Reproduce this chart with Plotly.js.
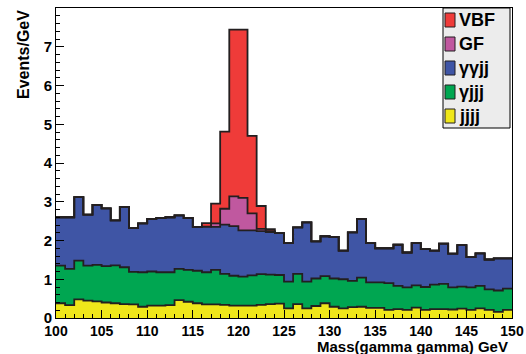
<!DOCTYPE html>
<html><head><meta charset="utf-8">
<script src="https://cdn.plot.ly/plotly-3.0.1.min.js"></script>
<style>html,body{margin:0;padding:0;background:#fff}#chart{width:526px;height:354px}</style>
</head><body><div id="chart"></div>
<script>
// Bin low edges (GeV), 1 GeV bins
const massLow = [100,101,102,103,104,105,106,107,108,109,110,111,112,113,114,115,116,117,118,119,120,121,122,123,124,125,126,127,128,129,130,131,132,133,134,135,136,137,138,139,140,141,142,143,144,145,146,147,148,149];
const binWidth = 1;

// Series (drawn stacked, bottom first)
const seriesNames = ['jjjj', 'γjjj', 'γγjj', 'GF', 'VBF'];
const jjjj = [0.38,0.33,0.48,0.45,0.43,0.40,0.38,0.36,0.35,0.29, 0.32,0.32,0.33,0.46,0.42,0.38,0.35,0.35,0.34,0.32, 0.32,0.32,0.34,0.36,0.37,0.25,0.36,0.25,0.31,0.38, 0.29,0.25,0.28,0.29,0.26,0.26,0.21,0.23,0.21,0.27, 0.21,0.23,0.23,0.22,0.24,0.21,0.25,0.21,0.16,0.21];
const gjjj = [0.97,0.94,1.00,0.90,0.94,0.94,0.98,0.95,0.84,0.89, 0.88,0.86,0.85,0.81,0.82,0.84,0.83,0.89,0.80,0.77, 0.75,0.78,0.79,0.76,0.74,0.69,0.78,0.69,0.71,0.70, 0.73,0.75,0.68,0.75,0.66,0.66,0.69,0.60,0.58,0.57, 0.59,0.63,0.65,0.57,0.57,0.58,0.58,0.53,0.55,0.55];
const ggjj = [1.25,1.33,1.64,1.32,1.55,1.49,1.16,1.56,1.13,1.26, 1.36,1.40,1.42,1.38,1.34,1.13,1.18,1.11,1.27,1.28, 1.19,1.16,1.11,1.10,1.08,0.99,1.20,1.53,0.96,1.03, 1.07,0.74,1.25,1.52,1.01,0.88,0.90,1.06,0.90,1.09, 0.98,0.88,1.04,0.87,1.07,0.78,0.84,0.77,0.83,0.78];
const GF   = [0,0,0,0,0,0,0,0,0,0, 0,0,0,0,0,0,0,0.09,0.41,0.77, 0.84,0.44,0.06,0.02,0,0,0,0,0,0, 0,0,0,0,0,0,0,0,0,0, 0,0,0,0,0,0,0,0,0,0];
const VBF  = [0,0,0,0,0,0,0,0,0,0, 0,0,0,0,0,0,0.09,0.51,1.99,4.30, 4.34,2.00,0.59,0.05,0,0,0,0,0,0, 0,0,0,0,0,0,0,0,0,0, 0,0,0,0,0,0,0,0,0,0];
const seriesColors = ['#efe71a', '#00a651', '#3f55a5', '#c0589f', '#ef3b39'];
const legendLabels = ['VBF', 'GF', 'γγjj', 'γjjj', 'jjjj'];
const legendColors = ['#ef3b39', '#c0589f', '#3f55a5', '#00a651', '#efe71a'];

const FONT = 'Liberation Sans Narrow, Arial Narrow, Liberation Sans, Arial, sans-serif';
const seriesData = [jjjj, gjjj, ggjj, GF, VBF];
const edges = massLow.concat([massLow[massLow.length - 1] + binWidth]);

const traces = seriesData.map((vals, i) => ({
  type: 'scatter',
  mode: 'lines',
  name: seriesNames[i],
  x: edges,
  y: vals.concat([vals[vals.length - 1]]),
  stackgroup: 'stack',
  line: {shape: 'hv', color: '#231f20', width: 1.8},
  fillcolor: seriesColors[i],
  showlegend: false,
  hoverinfo: 'skip'
}));

// plot-area pixel helpers for the hand-built legend (ROOT style)
const L = 56, R = 512, T = 8, B = 318;
const px = v => (v - L) / (R - L);
const py = v => (B - v) / (B - T);

const shapes = [{
  type: 'rect', xref: 'paper', yref: 'paper',
  x0: px(443), x1: px(510), y0: py(128), y1: py(8),
  fillcolor: '#ececec', line: {color: '#000', width: 1}
}];
const annotations = [];
legendLabels.forEach((lab, i) => {
  const cy = 20 + i * 24;
  shapes.push({
    type: 'rect', xref: 'paper', yref: 'paper',
    x0: px(445), x1: px(455), y0: py(cy + 7), y1: py(cy - 7),
    fillcolor: legendColors[i], line: {color: '#231f20', width: 1}
  });
  annotations.push({
    xref: 'paper', yref: 'paper', x: px(457), y: py(cy), xanchor: 'left', yanchor: 'middle',
    text: lab, showarrow: false,
    font: {family: FONT, size: 18, color: '#000', weight: 'bold'}
  });
});
annotations.push({
  xref: 'paper', yref: 'paper', x: px(23), y: py(55), xanchor: 'center', yanchor: 'middle',
  text: 'Events/GeV', textangle: -90, showarrow: false,
  font: {family: FONT, size: 16, color: '#000', weight: 'bold'}
});
annotations.push({
  xref: 'paper', yref: 'paper', x: px(510), y: py(346.5), xanchor: 'right', yanchor: 'middle',
  text: 'Mass(gamma gamma) GeV', showarrow: false,
  font: {family: FONT, size: 15, color: '#000', weight: 'bold'}
});

const axisCommon = {
  ticks: 'inside', tickcolor: '#000', tickwidth: 1, ticklen: 8,
  showline: true, linecolor: '#000', linewidth: 1, mirror: true,
  showgrid: false, zeroline: false,
  tickfont: {family: FONT, size: 14, color: '#000', weight: 'bold'}
};

const layout = {
  width: 526, height: 354,
  margin: {l: L, r: 526 - R, t: T, b: 354 - B},
  paper_bgcolor: '#fff', plot_bgcolor: '#fff',
  showlegend: false,
  xaxis: Object.assign({}, axisCommon, {
    range: [100, 150], tick0: 100, dtick: 5,
    minor: {dtick: 1, ticklen: 4, ticks: 'inside', tickcolor: '#000'}
  }),
  yaxis: Object.assign({}, axisCommon, {
    range: [0, 8], tick0: 0, dtick: 1,
    tickfont: {family: FONT, size: 15, color: '#000', weight: 'bold'},
    minor: {dtick: 0.2, ticklen: 4, ticks: 'inside', tickcolor: '#000'}
  }),
  shapes: shapes,
  annotations: annotations
};

Plotly.newPlot('chart', traces, layout, {staticPlot: true, displayModeBar: false});
</script>
</body></html>
